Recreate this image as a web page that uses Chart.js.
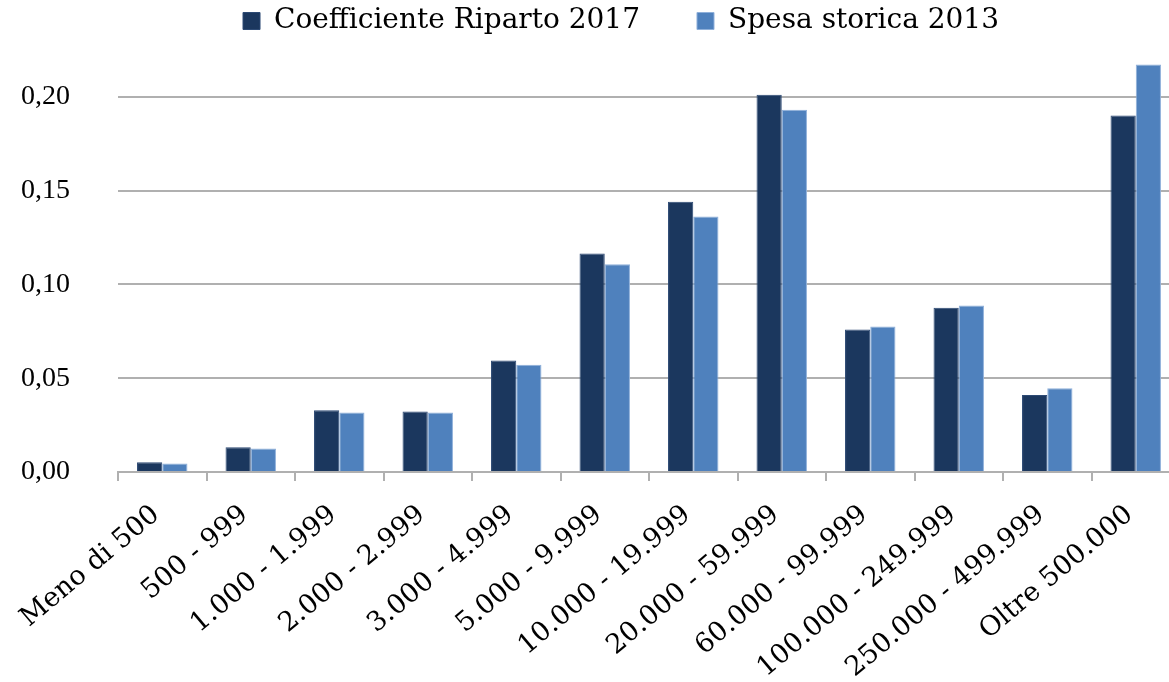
<!DOCTYPE html>
<html lang="it">
<head>
<meta charset="utf-8">
<title>Coefficiente Riparto 2017 vs Spesa storica 2013</title>
<script src="https://cdn.jsdelivr.net/npm/chart.js@4.4.1/dist/chart.umd.min.js"></script>
<style>
  html, body { margin: 0; padding: 0; background: #fff; overflow: hidden; }
  #wrap { position: relative; width: 1190px; height: 682px; }
</style>
</head>
<body>
<div id="wrap"><canvas id="chart"></canvas></div>
<script>
const categories = [
  "Meno di 500",
  "500 - 999",
  "1.000 - 1.999",
  "2.000 - 2.999",
  "3.000 - 4.999",
  "5.000 - 9.999",
  "10.000 - 19.999",
  "20.000 - 59.999",
  "60.000 - 99.999",
  "100.000 - 249.999",
  "250.000 - 499.999",
  "Oltre 500.000",
];

const coefficienteRiparto2017 = [
  0.0052, 0.0132, 0.0329, 0.0322, 0.0594, 0.1165,
  0.1441, 0.2011, 0.0759, 0.0876, 0.041, 0.19,
];

const spesaStorica2013 = [
  0.0045, 0.0125, 0.0317, 0.0317, 0.0572, 0.1107,
  0.1362, 0.1931, 0.0775, 0.0887, 0.0446, 0.2172,
];

const seriesNames = ["Coefficiente Riparto 2017", "Spesa storica 2013"];

const SERIF = "'DejaVu Serif', 'Liberation Serif', serif";
const TIMES = "'Liberation Serif', serif";
const GRID = "#b0b0b0";

function formatTick(value) {
  return value.toFixed(2).replace(".", ",");
}

new Chart(document.getElementById("chart"), {
  type: "bar",
  data: {
    labels: categories,
    datasets: [
      {
        label: seriesNames[0],
        data: coefficienteRiparto2017,
        backgroundColor: "#1b375e",
        borderColor: "#2d4a74",
        borderWidth: 1,
      },
      {
        label: seriesNames[1],
        data: spesaStorica2013,
        backgroundColor: "#4f81bd",
        borderColor: "#8fb0da",
        borderWidth: 1,
      },
    ],
  },
  options: {
    responsive: true,
    maintainAspectRatio: false,
    animation: false,
    categoryPercentage: 0.57,
    barPercentage: 1,
    // legend padding doubles as the gap between items, so pull it up
    layout: { padding: { left: 62, right: 10, top: -50, bottom: 0 } },
    plugins: {
      tooltip: { enabled: false },
      legend: {
        position: "top",
        labels: {
          boxWidth: 17,
          boxHeight: 17,
          padding: 57,
          color: "#000",
          font: { family: SERIF, size: 28 },
        },
      },
    },
    scales: {
      x: {
        afterFit(scale) {
          scale.height = 210;
        },
        border: { display: true, color: GRID, width: 2 },
        grid: {
          offset: true,
          drawOnChartArea: false,
          drawTicks: true,
          tickLength: 9,
          color: GRID,
          lineWidth: 2,
        },
        ticks: {
          autoSkip: false,
          minRotation: 40,
          maxRotation: 40,
          padding: 18,
          labelOffset: -6,
          color: "#000",
          font: { family: SERIF, size: 27 },
        },
      },
      y: {
        min: 0,
        max: 0.2276,
        afterFit(scale) {
          scale.width = 56;
        },
        border: { display: false },
        grid: { color: GRID, lineWidth: 2, drawTicks: false },
        ticks: {
          // mirrored so the labels are not clipped to the narrow axis box
          mirror: true,
          padding: -97,
          stepSize: 0.05,
          includeBounds: false,
          color: "#000",
          font: { family: TIMES, size: 28 },
          callback: (value) => formatTick(value),
        },
      },
    },
  },
});
</script>
</body>
</html>
